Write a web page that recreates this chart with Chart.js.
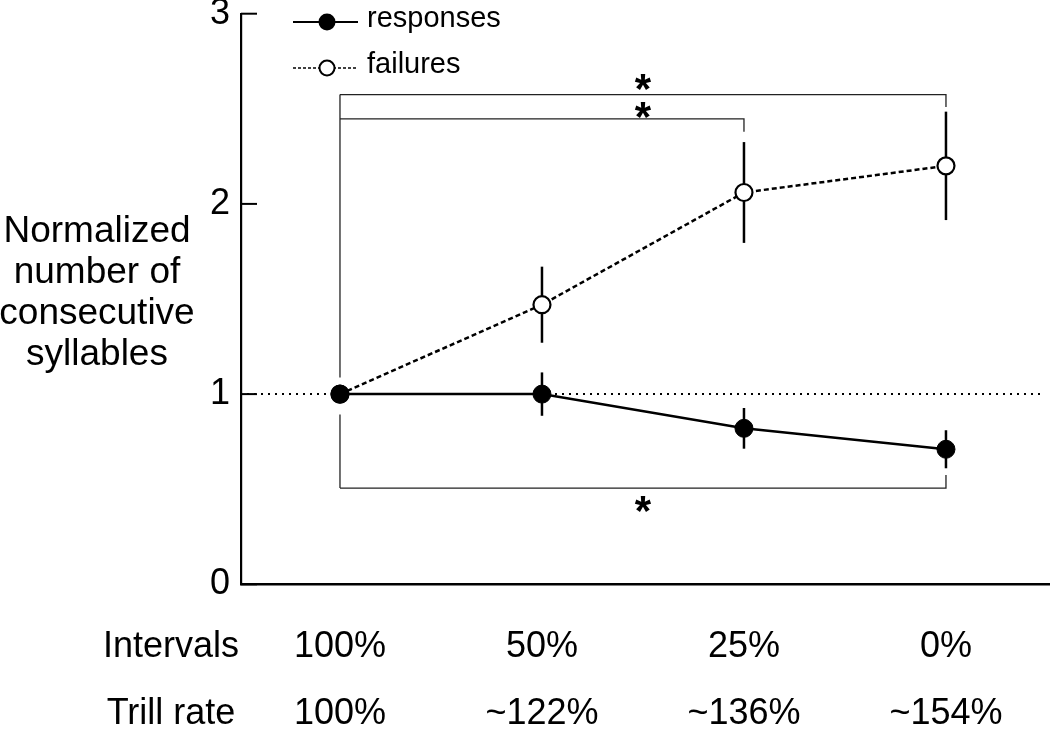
<!DOCTYPE html>
<html><head><meta charset="utf-8">
<script src="https://cdn.jsdelivr.net/npm/chart.js@4/dist/chart.umd.min.js"></script>
<style>html,body{margin:0;padding:0;background:#fff}#wrap{width:1050px;height:745px;position:relative}</style>
</head><body><div id="wrap"><canvas id="c" width="1050" height="745"></canvas></div>
<script>
// ---- data ----
const intervals = ['100%', '50%', '25%', '0%'];
const trillRates = ['100%', '~122%', '~136%', '~154%'];
const responses = [1.00, 1.00, 0.82, 0.71];
const responsesErr = [0, 0.114, 0.107, 0.10];
const failures = [1.00, 1.47, 2.06, 2.20];
const failuresErr = [0, 0.20, 0.265, 0.285];
const yTicks = [0, 1, 2, 3];
const yTitle = ['Normalized', 'number of', 'consecutive', 'syllables'];
const rowTitles = ['Intervals', 'Trill rate'];
const refLevel = 1;
// significance brackets (category index from/to, bracket level, end tick level)
const brackets = [
  {from: 0, to: 3, y: 2.575, endY: 2.51},
  {from: 0, to: 2, y: 2.447, endY: 2.379},
  {from: 0, to: 3, y: 0.506, endY: 0.575}
];
const bracketStem = [[2.575, 1.087], [0.893, 0.506]];
const stars = [{x: 1.5, y: 2.64}, {x: 1.5, y: 2.495}, {x: 1.5, y: 0.422}];

const FONT = '"Liberation Sans", Arial, Helvetica, sans-serif';

const annot = {
  id: 'annot',
  beforeDatasetsDraw(chart) {
    const {ctx, chartArea: ca, scales: {x, y}} = chart;
    ctx.save();
    // reference dotted line
    ctx.strokeStyle = '#000'; ctx.lineWidth = 2; ctx.setLineDash([2, 5]);
    ctx.beginPath();
    const ry = y.getPixelForValue(refLevel);
    ctx.moveTo(ca.left + 6, ry); ctx.lineTo(ca.right - 5, ry); ctx.stroke();
    ctx.setLineDash([]);
    // brackets
    ctx.strokeStyle = '#222'; ctx.lineWidth = 1.3;
    brackets.forEach(b => {
      const x0 = x.getPixelForValue(b.from), x1 = x.getPixelForValue(b.to);
      const yy = y.getPixelForValue(b.y), ye = y.getPixelForValue(b.endY);
      ctx.beginPath(); ctx.moveTo(x0, yy); ctx.lineTo(x1, yy); ctx.lineTo(x1, ye); ctx.stroke();
    });
    bracketStem.forEach(s => {
      const x0 = x.getPixelForValue(0);
      ctx.beginPath(); ctx.moveTo(x0, y.getPixelForValue(s[0])); ctx.lineTo(x0, y.getPixelForValue(s[1])); ctx.stroke();
    });
    // error bars
    ctx.strokeStyle = '#000'; ctx.lineWidth = 2.5;
    chart.data.datasets.forEach(ds => {
      ds.data.forEach((p, i) => {
        const e = ds.err[i];
        if (!e) return;
        const px = x.getPixelForValue(p.x);
        ctx.beginPath();
        ctx.moveTo(px, y.getPixelForValue(p.y + e));
        ctx.lineTo(px, y.getPixelForValue(p.y - e));
        ctx.stroke();
      });
    });
    ctx.restore();
  },
  afterDraw(chart) {
    const {ctx, chartArea: ca, scales: {x, y}} = chart;
    ctx.save();
    // inward ticks on y axis
    ctx.strokeStyle = '#000'; ctx.lineWidth = 2;
    yTicks.forEach(v => {
      const py = y.getPixelForValue(v);
      ctx.beginPath(); ctx.moveTo(ca.left, py); ctx.lineTo(ca.left + 16, py); ctx.stroke();
    });
    // stars
    ctx.fillStyle = '#000';
    ctx.font = 'bold 42px ' + FONT;
    ctx.textAlign = 'center'; ctx.textBaseline = 'alphabetic';
    const m = ctx.measureText('*');
    const off = (m.actualBoundingBoxAscent - m.actualBoundingBoxDescent) / 2;
    stars.forEach(s => {
      ctx.fillText('*', x.getPixelForValue(s.x), y.getPixelForValue(s.y) + off);
    });
    // y title
    ctx.font = '37px ' + FONT;
    ctx.textAlign = 'center'; ctx.textBaseline = 'middle';
    yTitle.forEach((t, i) => ctx.fillText(t, 97, 232 + i * 41));
    // row titles
    ctx.font = '36px ' + FONT;
    rowTitles.forEach((t, i) => ctx.fillText(t, 171, 647 + i * 67));
    // legend
    ctx.textAlign = 'left';
    ctx.font = '29px ' + FONT;
    ctx.lineWidth = 2; ctx.strokeStyle = '#000';
    ctx.beginPath(); ctx.moveTo(293, 22); ctx.lineTo(358, 22); ctx.stroke();
    ctx.beginPath(); ctx.arc(327, 22, 8.5, 0, Math.PI * 2); ctx.fill();
    ctx.fillText('responses', 367, 19);
    ctx.lineWidth = 1.5; ctx.setLineDash([3, 2]);
    ctx.beginPath(); ctx.moveTo(293, 68); ctx.lineTo(358, 68); ctx.stroke();
    ctx.setLineDash([]);
    ctx.lineWidth = 2; ctx.fillStyle = '#fff';
    ctx.beginPath(); ctx.arc(327, 68, 7.5, 0, Math.PI * 2); ctx.fill(); ctx.stroke();
    ctx.fillStyle = '#000';
    ctx.fillText('failures', 367, 65);
    ctx.restore();
  }
};

new Chart(document.getElementById('c'), {
  type: 'line',
  data: {
    datasets: [
      {label: 'responses', data: responses.map((v, i) => ({x: i, y: v})), err: responsesErr,
       borderColor: '#000', borderWidth: 2.5, pointRadius: 9, pointBackgroundColor: '#000',
       pointBorderColor: '#000', pointBorderWidth: 1, tension: 0},
      {label: 'failures', data: failures.map((v, i) => ({x: i, y: v})), err: failuresErr,
       borderColor: '#000', borderWidth: 2.5, borderDash: [5, 3], pointRadius: 8.5,
       pointBackgroundColor: '#fff', pointBorderColor: '#000', pointBorderWidth: 2.2, tension: 0}
    ]
  },
  options: {
    responsive: false, animation: false, devicePixelRatio: 1,
    layout: {autoPadding: false, padding: {top: 13.7, left: 0, right: 0, bottom: 0}},
    plugins: {legend: {display: false}, tooltip: {enabled: false}},
    scales: {
      x: {
        type: 'linear', min: -0.49, max: 3.515,
        afterBuildTicks: s => { s.ticks = intervals.map((_, i) => ({value: i})); },
        ticks: {
          callback: v => [intervals[v], trillRates[v]],
          font: {family: FONT, size: 36, lineHeight: '67px'}, color: '#000',
          padding: 29, maxRotation: 0, autoSkip: false
        },
        grid: {display: false, drawTicks: false},
        border: {display: true, color: '#000', width: 2.5},
        afterFit: s => { s.height = 160.7; s.paddingLeft = 0; s.paddingRight = 0; }
      },
      y: {
        min: 0, max: 3,
        afterBuildTicks: s => { s.ticks = yTicks.map(v => ({value: v})); },
        ticks: {font: {family: FONT, size: 36}, color: '#000', padding: 11},
        grid: {display: false, drawTicks: false},
        border: {display: true, color: '#000', width: 2.2},
        afterFit: s => { s.width = 241; s.paddingTop = 0; s.paddingBottom = 0; }
      }
    }
  },
  plugins: [annot]
});
</script>
</body></html>
